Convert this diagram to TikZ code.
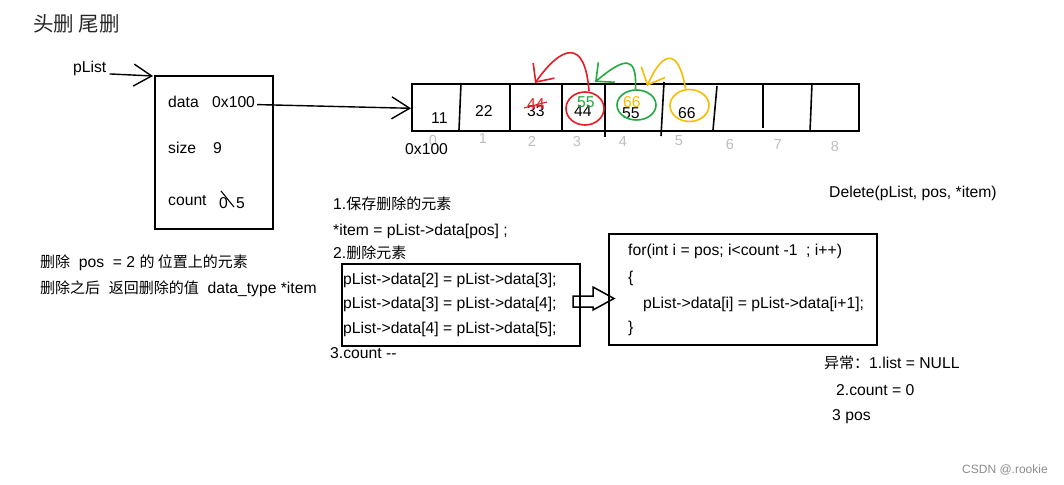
\documentclass[tikz,border=0pt]{standalone}
\usepackage{fontspec}
\setmainfont{Liberation Sans}
\newfontfamily\cjk{Noto Sans CJK SC}[Scale=0.955]
\newfontfamily\cjktitle{Noto Sans CJK SC}
\usetikzlibrary{arrows.meta,shapes.geometric}
\definecolor{cred}{RGB}{228,28,36}
\definecolor{cgreen}{RGB}{34,170,64}
\definecolor{cyell}{RGB}{246,190,0}
\definecolor{cidx}{RGB}{190,190,190}
\begin{document}
\begin{tikzpicture}[x=1pt,y=-1pt,
  txt/.style={anchor=base west,inner sep=0pt,font=\fontsize{15.7}{18}\selectfont},
  idx/.style={anchor=base,inner sep=0pt,font=\fontsize{14.5}{16}\selectfont,text=cidx},
  ln/.style={line width=1.6pt},
  boxn/.style={draw,line width=1.6pt,anchor=north west,inner sep=0pt},
  ptr/.style={line width=1.4pt,-{Straight Barb[length=18pt,width=22pt,line width=1.4pt]}},
  ring/.style={ellipse,draw,line width=1.6pt,inner sep=0pt},
  carrow/.style={line width=1.6pt,-{Straight Barb[length=14pt,width=26pt,line width=1.6pt]}}
]
\fill[white] (0,0) rectangle (1064,484);
\useasboundingbox (0,0) rectangle (1064,484);

% title
\node[txt,font=\fontsize{20.5}{24}\selectfont\cjktitle,text=black!85] (title) at (33,32) {头删 尾删};

% struct box
\node[txt] (plist) at (73,73) {pList};
\node[boxn,minimum width=118pt,minimum height=153pt] (sbox) at (154,75) {};
\draw[ptr] ([xshift=3pt,yshift=-5pt]plist.east) -- ([shift={(-1,1)}]sbox.north west);
\node[txt] (ldata) at (168,107) {data};
\node[txt] (hex1) at (212,108) {0x100};
\node[txt] (lsize) at (168,153) {size};
\node[txt] (vsize) at (213,153) {9};
\node[txt] (lcount) at (168,205) {count};
\node[txt] (zero) at (219,208) {0};
\node[txt] (five) at (236,208) {5};
\draw[line width=1.1pt] (221,191) -- (234,207);

% array
\node[boxn,minimum width=447pt,minimum height=47pt] (arr) at (411,83) {};
\draw[ptr] ([xshift=2pt,yshift=-2pt]hex1.east) -- ([yshift=-1pt]arr.west);
\draw[ln] (461,83) -- (459,130);
\draw[ln] (510,83) -- (510,130);
\draw[ln] (562,83) -- (562,130);
\draw[ln] (605,83) -- (605,137);
\draw[ln] (664,82) -- (661,136);
\draw[ln] (717,86) -- (713,130);
\draw[ln] (763,83) -- (763,128);
\draw[ln] (812,83) -- (810,132);

\node[txt] (v0) at (431,123) {11};
\node[txt] (v1) at (475,117) {22};
\node[txt] (v2) at (527,117) {33};
\node[txt] (v3) at (574,117) {44};
\node[txt] (v4) at (622,118) {55};
\node[txt] (v5) at (678,118) {66};
\node[txt,text=cred] (r2) at (527,110) {44};
\draw[cred,line width=1.1pt] (524,108) -- (547,102);
\node[txt,text=cgreen] (g3) at (577,108) {55};
\node[txt,text=cyell] (y4) at (623,108) {66};

\node[idx] (i0) at (433,145) {0};
\node[idx] (i1) at (483,143) {1};
\node[idx] (i2) at (532,146) {2};
\node[idx] (i3) at (577,146) {3};
\node[idx] (i4) at (623,146) {4};
\node[idx] (i5) at (679,145) {5};
\node[idx] (i6) at (730,149) {6};
\node[idx] (i7) at (778,149) {7};
\node[idx] (i8) at (835,151) {8};
\node[txt] (hex2) at (405,154) {0x100};

% rings and move arrows
\node[ring,draw=cred,minimum width=38pt,minimum height=33pt] (c1) at (585,108.5) {};
\node[ring,draw=cgreen,minimum width=39pt,minimum height=30pt] (c2) at (636.5,105) {};
\node[ring,draw=cyell,minimum width=39pt,minimum height=32pt] (c3) at (689.5,105.5) {};
\coordinate (t1) at (535,83);
\coordinate (t2) at (595,82);
\coordinate (t3) at (647,86);
\draw[carrow,cred] ([xshift=4pt]c1.north) .. controls (585,38) and (562,45) .. (t1);
\draw[carrow,cgreen] ([xshift=-1pt]c2.north) .. controls (637,55) and (625,57) .. (t2);
\draw[carrow,cyell] ([xshift=-4pt]c3.north) .. controls (679,50) and (664,48) .. (t3);

% steps
\node[txt] (s1) at (333,209) {1.{\cjk 保存删除的元素}};
\node[txt] (s1b) at (333,235) {*item = pList->data[pos] ;};
\node[txt] (s2) at (333,258) {2.{\cjk 删除元素}};
\node[boxn,minimum width=238pt,minimum height=82pt] (code1) at (341,263) {};
\node[txt] (c1a) at (343,284) {pList->data[2] = pList->data[3];};
\node[txt] (c1b) at (343,308) {pList->data[3] = pList->data[4];};
\node[txt] (c1c) at (343,333) {pList->data[4] = pList->data[5];};
\node[txt] (s3) at (330,358) {3.count {-}{-}};

% for box
\node[boxn,minimum width=268pt,minimum height=111pt] (forbox) at (608,233) {};
\draw[line width=1.5pt,line join=miter] (573,296) -- (593,296) -- (593,287) -- (614,298.5) -- (593,310) -- (593,307) -- (573,307) -- cycle;
\node[txt] (f1) at (628,255) {for(int i = pos; i<count -1\ \ ; i++)};
\node[txt] (f2) at (628,282) {\{};
\node[txt] (f3) at (643,308) {pList->data[i] = pList->data[i+1];};
\node[txt] (f4) at (628,332) {\}};

% left notes
\node[txt] (n1) at (40,267) {{\cjk 删除}\ \ pos\ \ = 2 {\cjk 的 位置上的元素}};
\node[txt] (n2) at (40,293) {{\cjk 删除之后}\ \ {\cjk 返回删除的值}\ \ data\_type *item};

% right notes
\node[txt] (del) at (829,197) {Delete(pList, pos, *item)};
\node[txt] (e1) at (824,368) {{\cjk 异常：}1.list = NULL};
\node[txt] (e2) at (836,395) {2.count = 0};
\node[txt] (e3) at (832,420) {3 pos};
\node[txt,font=\fontsize{12}{14}\selectfont,text=black!45] (wm) at (962,473) {CSDN @.rookie};
\end{tikzpicture}
\end{document}
